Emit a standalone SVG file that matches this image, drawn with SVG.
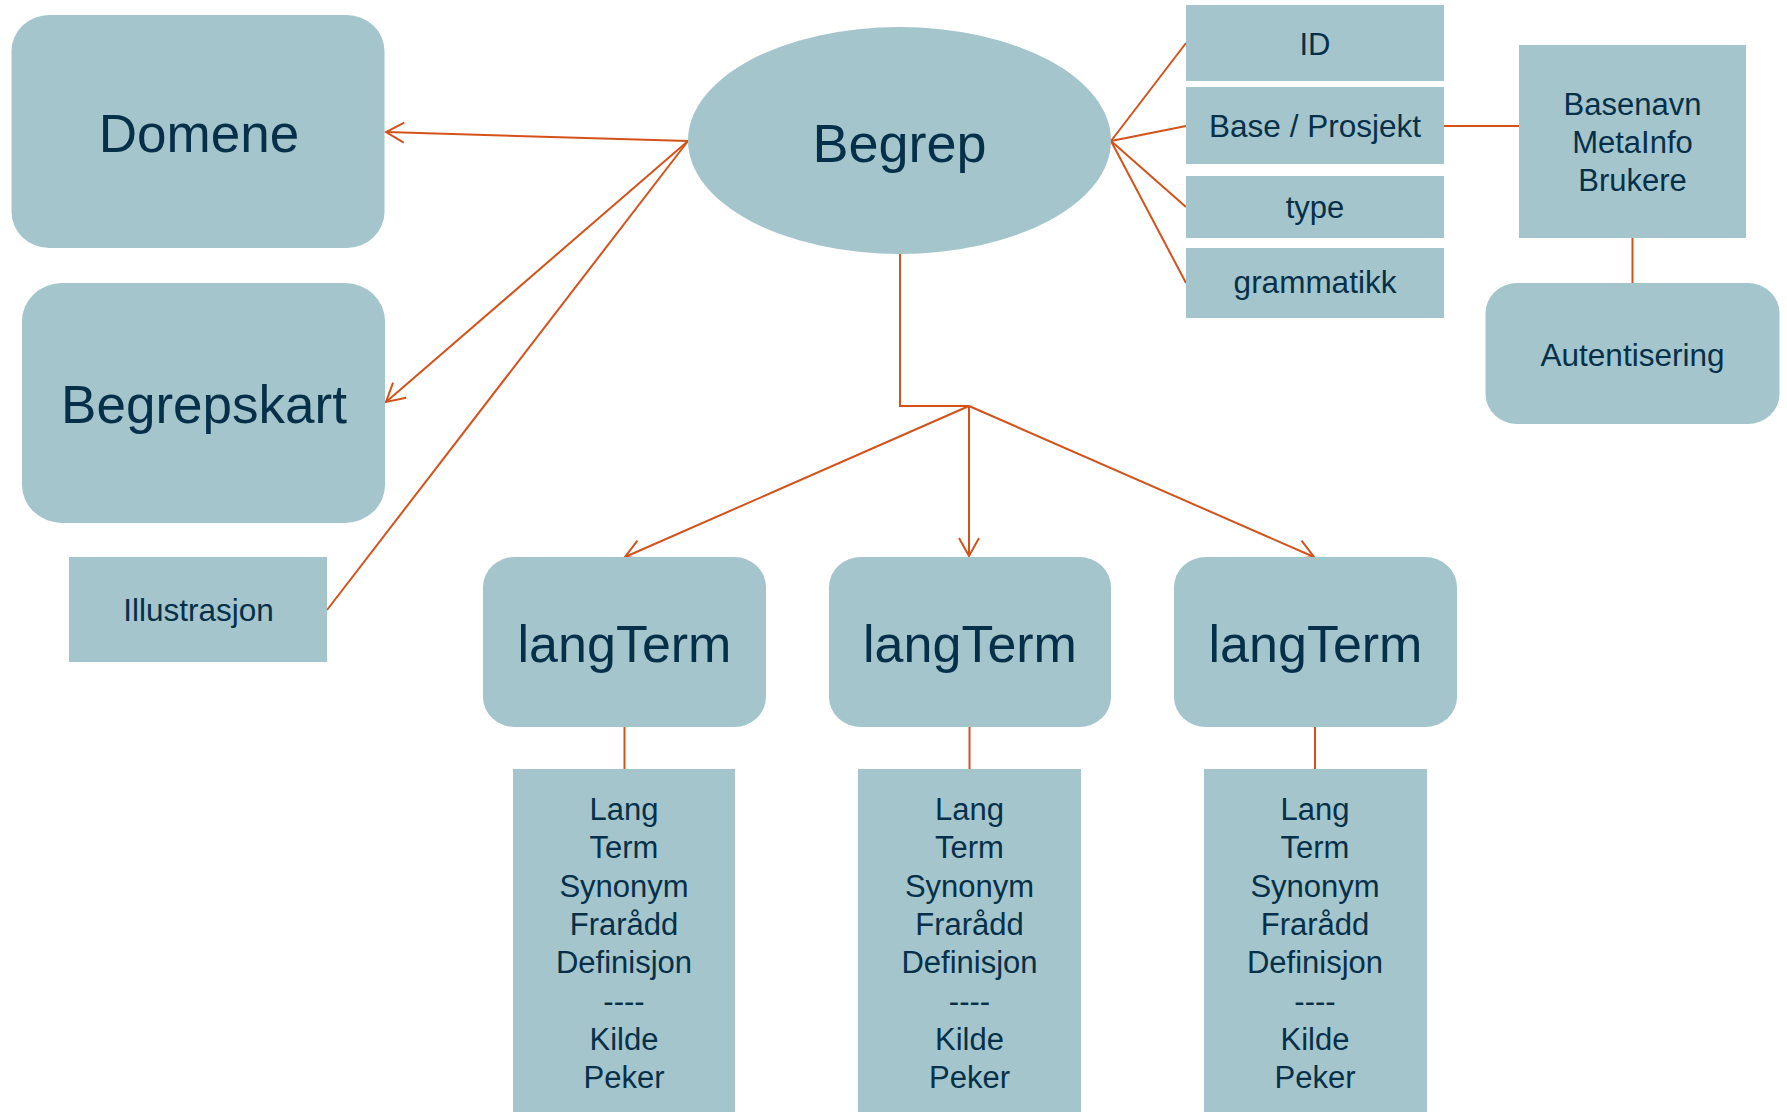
<svg xmlns="http://www.w3.org/2000/svg" width="1787" height="1112" viewBox="0 0 1787 1112">
<style>
.n{fill:#A3C5CB;stroke:none}
.t{font-family:"Liberation Sans",Arial,sans-serif;fill:#06304A;text-anchor:middle}
.c{fill:none;stroke:#D4521A;stroke-width:2}
</style>
<defs>
<marker id="arr" viewBox="-20 -12 22 24" refX="0" refY="0" markerWidth="22" markerHeight="24" markerUnits="userSpaceOnUse" orient="auto">
<path d="M-18,-10 L0,0 L-18,10" fill="none" stroke="#D4521A" stroke-width="2"/>
</marker>
</defs>
<rect width="1787" height="1112" fill="#FFFFFF"/>
<g id="connectors">
<line class="c" x1="688" y1="141" x2="386" y2="132" marker-end="url(#arr)"/>
<line class="c" x1="688" y1="141" x2="386" y2="402" marker-end="url(#arr)"/>
<line class="c" x1="688" y1="141" x2="327" y2="610"/>
<line class="c" x1="1111" y1="141" x2="1186" y2="43"/>
<line class="c" x1="1111" y1="141" x2="1186" y2="126"/>
<line class="c" x1="1111" y1="141" x2="1186" y2="207"/>
<line class="c" x1="1111" y1="141" x2="1186" y2="283"/>
<line class="c" x1="1444" y1="126" x2="1519" y2="126"/>
<line class="c" x1="1632.5" y1="238" x2="1632.5" y2="283"/>
<polyline class="c" points="900,254 900,406 969,406"/>
<line class="c" x1="969" y1="406" x2="625" y2="557" marker-end="url(#arr)"/>
<line class="c" x1="969" y1="406" x2="969" y2="556" marker-end="url(#arr)"/>
<line class="c" x1="969" y1="406" x2="1314" y2="557" marker-end="url(#arr)"/>
<line class="c" x1="624.5" y1="727" x2="624.5" y2="769"/>
<line class="c" x1="969.5" y1="727" x2="969.5" y2="769"/>
<line class="c" x1="1315" y1="727" x2="1315" y2="769"/>
</g>
<g id="domene">
<rect class="n" x="11.5" y="15" width="373" height="233" rx="38" ry="36"/>
<text class="t" x="199" y="152" font-size="53">Domene</text>
</g>
<g id="begrepskart">
<rect class="n" x="22" y="283" width="363" height="240" rx="40" ry="38"/>
<text class="t" x="204" y="423" font-size="53">Begrepskart</text>
</g>
<g id="illustrasjon">
<rect class="n" x="69" y="557" width="258" height="105"/>
<text class="t" x="198.5" y="621" font-size="31.5">Illustrasjon</text>
</g>
<g id="begrep">
<ellipse class="n" cx="899.5" cy="140.5" rx="211.5" ry="113.5"/>
<text class="t" x="899.5" y="162" font-size="54">Begrep</text>
</g>
<g id="id">
<rect class="n" x="1186" y="5" width="258" height="76"/>
<text class="t" x="1315" y="55" font-size="31">ID</text>
</g>
<g id="base">
<rect class="n" x="1186" y="87" width="258" height="77"/>
<text class="t" x="1315" y="137" font-size="31.5">Base / Prosjekt</text>
</g>
<g id="type">
<rect class="n" x="1186" y="176" width="258" height="62"/>
<text class="t" x="1315" y="218" font-size="31">type</text>
</g>
<g id="grammatikk">
<rect class="n" x="1186" y="248" width="258" height="70"/>
<text class="t" x="1315" y="293" font-size="31.5">grammatikk</text>
</g>
<g id="basenavn">
<rect class="n" x="1519" y="45" width="227" height="193"/>
<text class="t" font-size="31"><tspan x="1632.5" y="115">Basenavn</tspan><tspan x="1632.5" y="153">MetaInfo</tspan><tspan x="1632.5" y="191">Brukere</tspan></text>
</g>
<g id="autentisering">
<rect class="n" x="1485.5" y="283" width="294" height="141" rx="32" ry="30"/>
<text class="t" x="1632.5" y="366" font-size="31.5">Autentisering</text>
</g>
<g id="langterm1">
<rect class="n" x="483" y="557" width="283" height="170" rx="32" ry="30"/>
<text class="t" x="624.5" y="662" font-size="52">langTerm</text>
</g>
<g id="langterm2">
<rect class="n" x="829" y="557" width="282" height="170" rx="32" ry="30"/>
<text class="t" x="970" y="662" font-size="52">langTerm</text>
</g>
<g id="langterm3">
<rect class="n" x="1174" y="557" width="283" height="170" rx="32" ry="30"/>
<text class="t" x="1315.5" y="662" font-size="52">langTerm</text>
</g>
<g id="detaljer1">
<rect class="n" x="513" y="769" width="222" height="343"/>
<text class="t" font-size="31"><tspan x="624" y="820">Lang</tspan><tspan x="624" y="858.3">Term</tspan><tspan x="624" y="896.6">Synonym</tspan><tspan x="624" y="934.9">Frarådd</tspan><tspan x="624" y="973.2">Definisjon</tspan><tspan x="624" y="1011.5">----</tspan><tspan x="624" y="1049.8">Kilde</tspan><tspan x="624" y="1088.1">Peker</tspan></text>
</g>
<g id="detaljer2">
<rect class="n" x="858" y="769" width="223" height="343"/>
<text class="t" font-size="31"><tspan x="969.5" y="820">Lang</tspan><tspan x="969.5" y="858.3">Term</tspan><tspan x="969.5" y="896.6">Synonym</tspan><tspan x="969.5" y="934.9">Frarådd</tspan><tspan x="969.5" y="973.2">Definisjon</tspan><tspan x="969.5" y="1011.5">----</tspan><tspan x="969.5" y="1049.8">Kilde</tspan><tspan x="969.5" y="1088.1">Peker</tspan></text>
</g>
<g id="detaljer3">
<rect class="n" x="1204" y="769" width="223" height="343"/>
<text class="t" font-size="31"><tspan x="1315" y="820">Lang</tspan><tspan x="1315" y="858.3">Term</tspan><tspan x="1315" y="896.6">Synonym</tspan><tspan x="1315" y="934.9">Frarådd</tspan><tspan x="1315" y="973.2">Definisjon</tspan><tspan x="1315" y="1011.5">----</tspan><tspan x="1315" y="1049.8">Kilde</tspan><tspan x="1315" y="1088.1">Peker</tspan></text>
</g>
</svg>
